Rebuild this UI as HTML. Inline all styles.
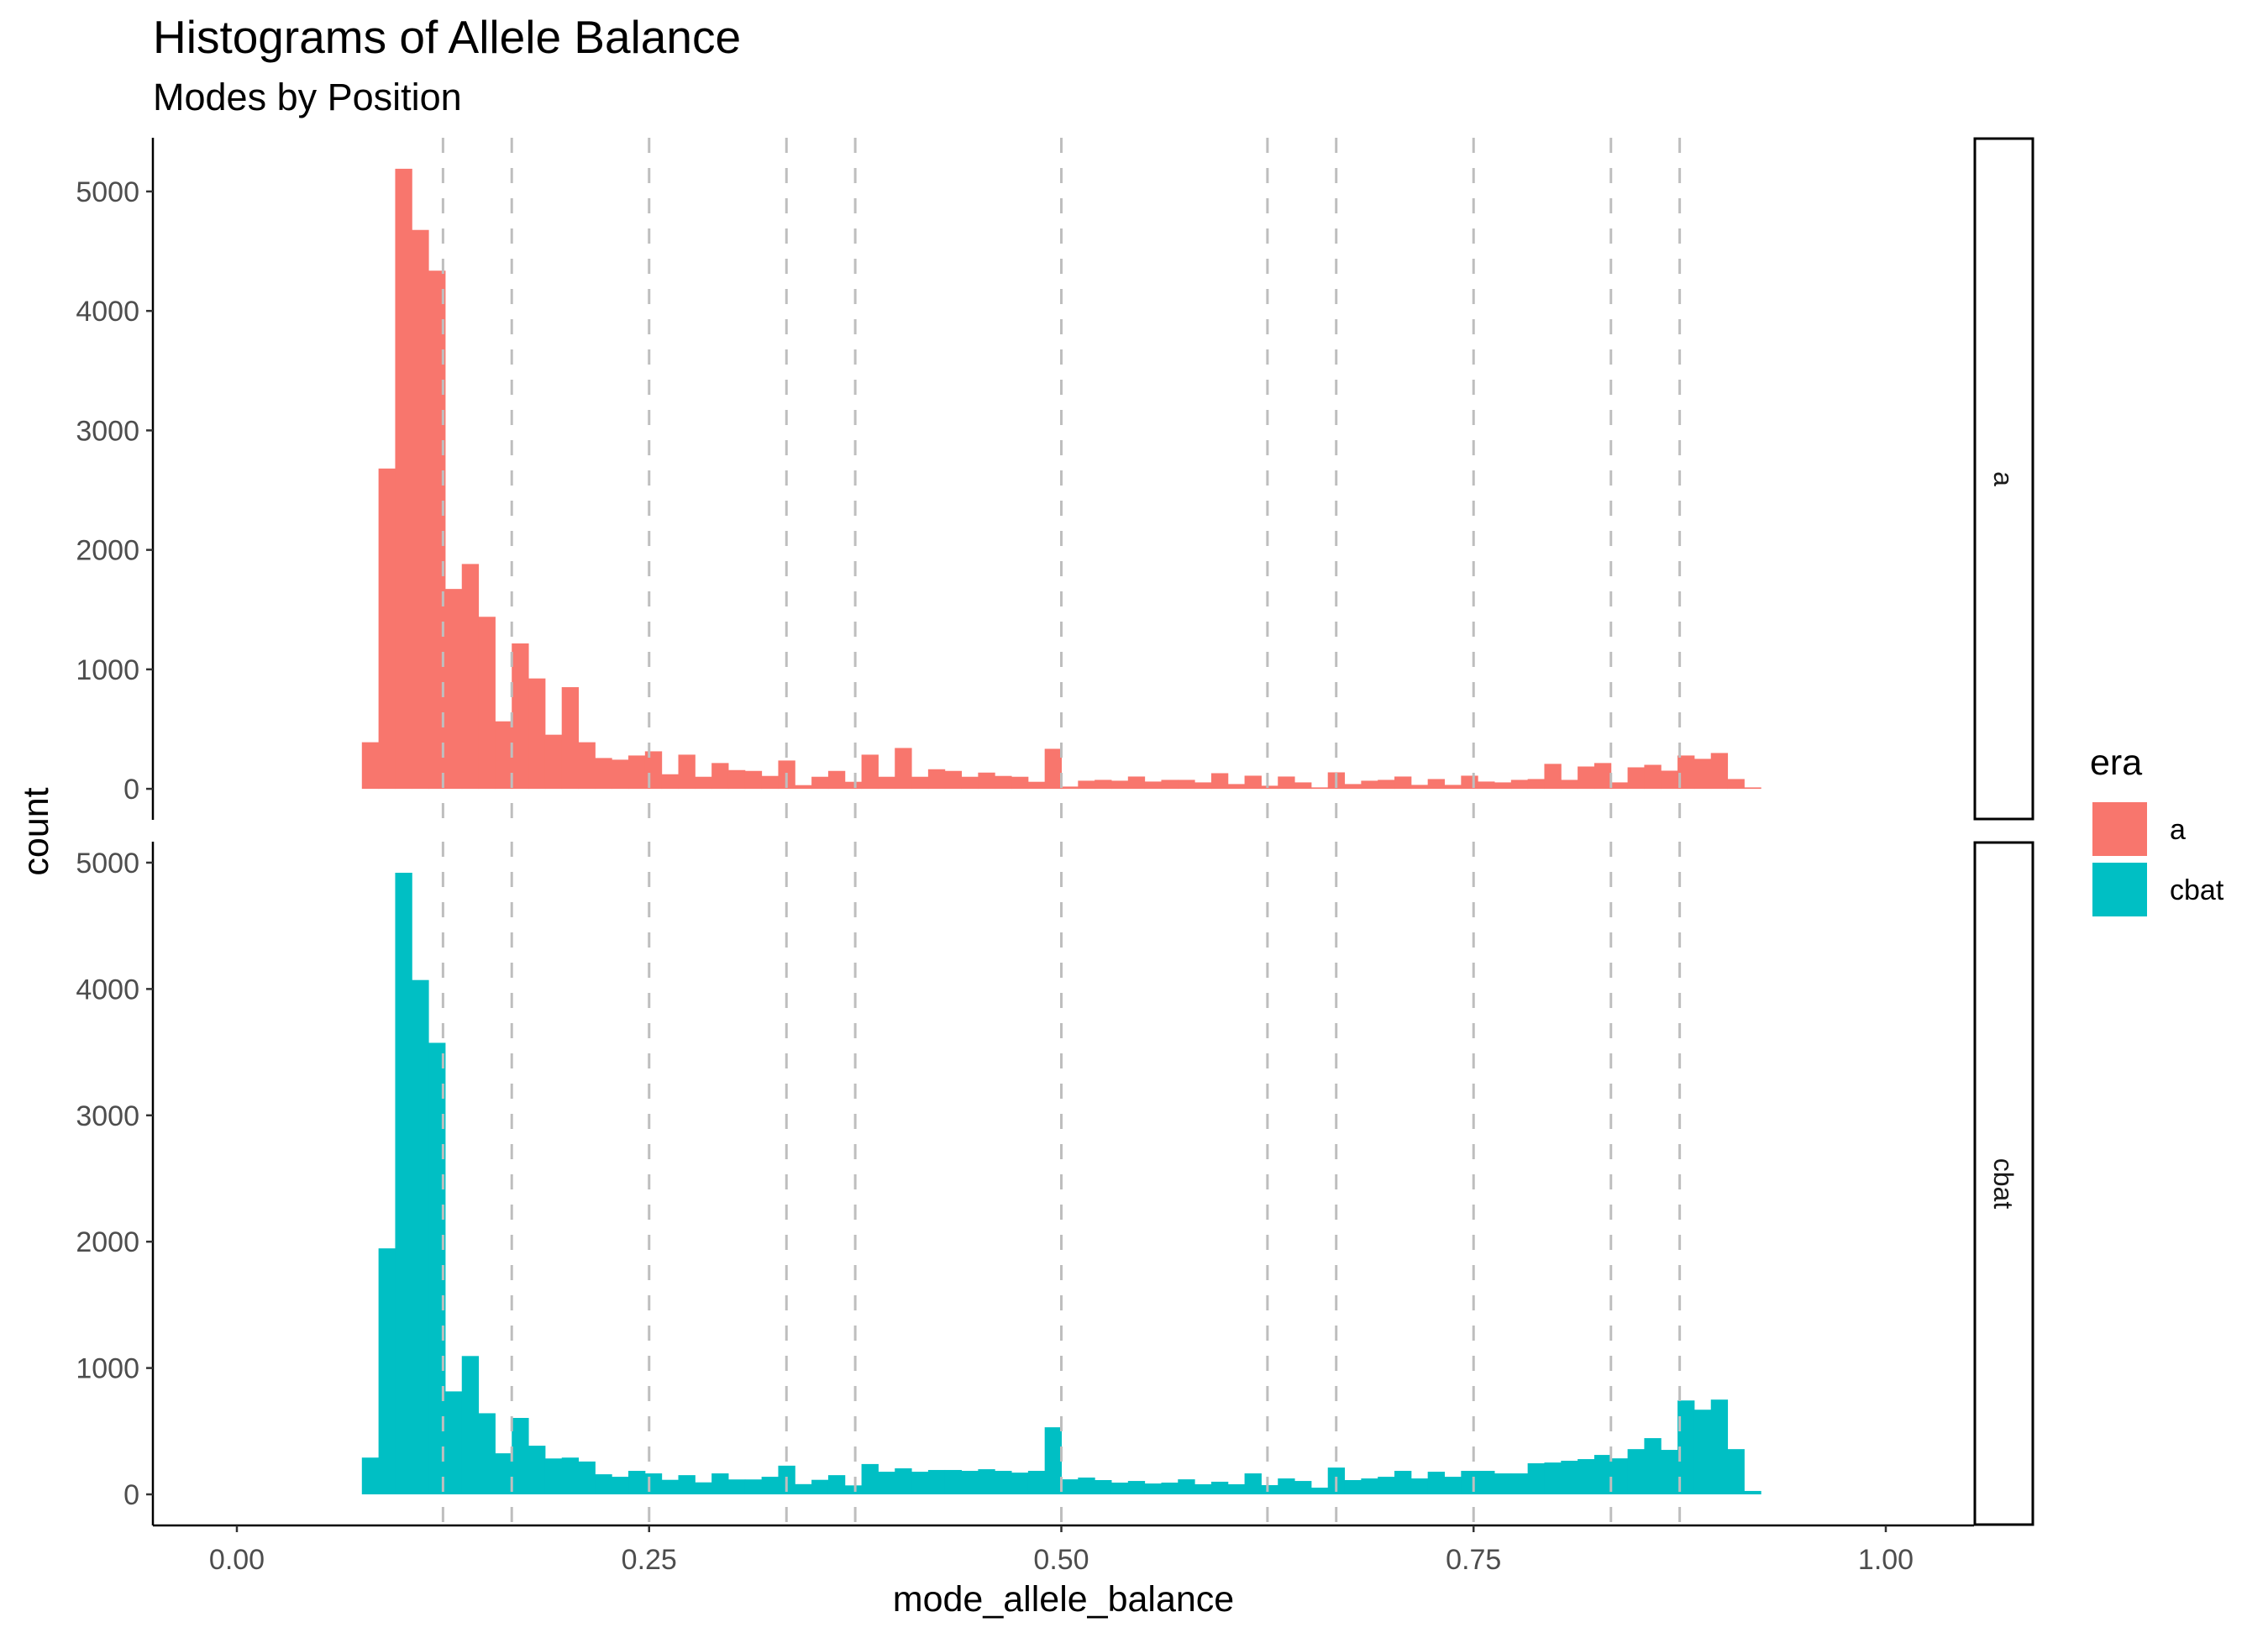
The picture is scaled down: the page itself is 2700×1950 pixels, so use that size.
<!DOCTYPE html>
<html><head><meta charset="utf-8"><style>
html,body{margin:0;padding:0;background:#fff;}
svg{display:block;font-family:"Liberation Sans",Arial,sans-serif;}
</style></head><body>
<svg id="chart" width="2700" height="1950" viewBox="0 0 2700 1950" xmlns="http://www.w3.org/2000/svg">
<rect width="2700" height="1950" fill="#fff"/>
<text x="182" y="63" font-size="55" fill="#000">Histograms of Allele Balance</text>
<text x="182" y="131" font-size="45" fill="#000">Modes by Position</text>
<g id="plot"></g>
</svg>
<script>
const binStart = 0.0758;
const binWidth = 0.0101;
const countsA = [390,2681,5190,4678,4337,1673,1882,1440,565,1217,924,453,851,390,258,244,279,314,122,286,101,216,157,150,108,237,31,101,150,59,286,101,342,101,164,150,101,136,108,101,59,335,
19,68,75,68,103,61,75,75,54,131,40,110,26,103,54,12,138,40,68,75,103,33,82,33,110,61,54,75,82,209,75,187,216,54,180,201,152,279,251,300,82,12];
const countsCbat = [291,1947,4920,4071,3574,815,1095,642,325,605,385,284,291,260,159,139,186,166,115,152,95,166,118,118,139,227,81,115,152,71,240,179,206,179,193,193,186,199,186,172,186,531,
119,133,113,93,106,86,93,119,80,100,80,166,73,126,106,53,212,113,126,139,186,126,179,139,186,186,166,166,246,252,266,279,312,285,358,445,352,743,670,750,358,27];
const vlines = [0.125,0.1667,0.25,0.3333,0.375,0.5,0.625,0.6667,0.75,0.8333,0.875];
const xTicks = [0,0.25,0.5,0.75,1];
const xTickLabels = ["0.00","0.25","0.50","0.75","1.00"];
const yTicks = [0,1000,2000,3000,4000,5000];
const eraNames = ["a","cbat"];
const eraColors = ["#F8766D","#00BFC4"];

const NS="http://www.w3.org/2000/svg";
const g=document.getElementById('plot');
function mk(tag,attrs,parent){const e=document.createElementNS(NS,tag);for(const k in attrs)e.setAttribute(k,attrs[k]);(parent||g).appendChild(e);return e;}
const PL=182, PR=2350;
const xs=v=>282+v*1963;
const panels=[{top:164,bot:976,data:countsA,name:eraNames[0],color:eraColors[0]},{top:1002,bot:1816,data:countsCbat,name:eraNames[1],color:eraColors[1]}];
panels.forEach((p,pi)=>{
  const mx=Math.max(...p.data);
  const range=mx*1.1, lo=-mx*0.05;
  const ys=v=>p.bot-(v-lo)/range*(p.bot-p.top);
  const pg=mk('g',{});
  
  
  p.data.forEach((c,i)=>{
    const x0=xs(binStart+i*binWidth), x1=xs(binStart+(i+1)*binWidth);
    const r=mk('rect',{x:x0,y:ys(c),width:x1-x0+0.5,height:ys(0)-ys(c),fill:p.color},pg);
    
    
  });
  vlines.forEach(v=>{
    const l=mk('line',{x1:xs(v),x2:xs(v),y1:p.top,y2:p.bot,stroke:'#bebebe','stroke-width':3,'stroke-dasharray':'18 18'},pg);
    
    
  });
  const ax=mk('line',{x1:PL,x2:PL,y1:p.top,y2:p.bot,stroke:'#000','stroke-width':2.5},pg);
  
  
  yTicks.forEach(t=>{
    if(t>mx*1.05)return;
    mk('line',{x1:PL-8,x2:PL,y1:ys(t),y2:ys(t),stroke:'#333','stroke-width':2.5},pg);
    const tx=mk('text',{x:PL-16,y:ys(t)+12,'text-anchor':'end','font-size':34,fill:'#4d4d4d'},pg);
    tx.textContent=String(t);
    
    
  });
  const st=mk('rect',{x:PR+1,y:p.top+1,width:69,height:p.bot-p.top-2,fill:'#fff',stroke:'#000','stroke-width':3},pg);
  
  
  const cy=(p.top+p.bot)/2;
  const sx=PR+35;
  const sl=mk('text',{x:sx,y:cy,'text-anchor':'middle','font-size':32,fill:'#1a1a1a',transform:'rotate(90 '+sx+' '+cy+') translate(0 11)'},pg);
  sl.textContent=p.name;
  
  
});
const xa=mk('line',{x1:PL,x2:PR,y1:1816,y2:1816,stroke:'#000','stroke-width':2.5});


xTicks.forEach((t,i)=>{
  mk('line',{x1:xs(t),x2:xs(t),y1:1816,y2:1824,stroke:'#333','stroke-width':2.5});
  const tx=mk('text',{x:xs(t),y:1868,'text-anchor':'middle','font-size':34,fill:'#4d4d4d'});
  tx.textContent=xTickLabels[i];
  
  
});
const xt=mk('text',{x:1266,y:1918,'text-anchor':'middle','font-size':43,fill:'#000'});
xt.textContent='mode_allele_balance';


const yt=mk('text',{x:0,y:0,'text-anchor':'middle','font-size':43,fill:'#000',transform:'translate(57 990) rotate(-90)'});
yt.textContent='count';


const lt=mk('text',{x:2488,y:922,'font-size':43,fill:'#000'});
lt.textContent='era';


eraNames.forEach((n,i)=>{
  const y0=955+i*72;
  const k=mk('rect',{x:2491,y:y0,width:65,height:64,fill:eraColors[i]});
  
  
  const t=mk('text',{x:2583,y:y0+44,'font-size':34,fill:'#000'});
  t.textContent=n;
  
  
});
</script>
</body></html>
